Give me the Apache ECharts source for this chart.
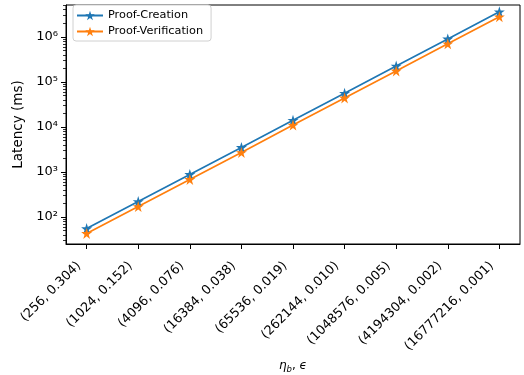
<!DOCTYPE html>
<html><head><meta charset="utf-8">
<script src="https://cdn.jsdelivr.net/npm/echarts@6/dist/echarts.min.js"></script>
<style>html,body{margin:0;padding:0;background:#fff}#c{width:524px;height:375px}</style>
</head><body><div id="c"></div>
<script>
var categories = ['(256, 0.304)','(1024, 0.152)','(4096, 0.076)','(16384, 0.038)','(65536, 0.019)','(262144, 0.010)','(1048576, 0.005)','(4194304, 0.002)','(16777216, 0.001)'];
var proofCreation = [55, 220, 880, 3500, 14000, 56000, 225000, 900000, 3600000];
var proofVerification = [43, 170, 680, 2700, 11000, 44000, 175000, 700000, 2800000];
var yMajorTicks = [100, 1000, 10000, 100000, 1000000];
var yMajorLabels = ['10²','10³','10⁴','10⁵','10⁶'];
var yMinorTicks = [30,40,50,60,70,80,90,200,300,400,500,600,700,800,900,2000,3000,4000,5000,6000,7000,8000,9000,
  20000,30000,40000,50000,60000,70000,80000,90000,200000,300000,400000,500000,600000,700000,800000,900000,2000000,3000000,4000000,5000000];

var star = 'path://M50,0 L61.2,34.5 L97.6,34.5 L68.2,55.9 L79.4,90.5 L50,69.1 L20.6,90.5 L31.8,55.9 L2.4,34.5 L38.8,34.5 Z';
var font = 'DejaVu Sans';
function mk(arr){ return arr.map(function(v,i){ return [i, v]; }); }
function yLabel(v){
  for (var i=0;i<yMajorTicks.length;i++){ if (Math.abs(v - yMajorTicks[i]) < yMajorTicks[i]*1e-6) return yMajorLabels[i]; }
  return '';
}
var chart = echarts.init(document.getElementById('c'), null, {renderer:'canvas'});
chart.setOption({
  animation: false,
  backgroundColor: '#fff',
  grid: {left: 66, right: 4, top: 5, bottom: 131, show: true, borderColor: '#000', borderWidth: 1, backgroundColor: 'transparent', containLabel: false, outerBoundsMode: 'none'},
  legend: {
    left: 73, top: 5, orient: 'vertical', itemGap: 5, itemWidth: 26, itemHeight: 12,
    padding: [5, 8, 4, 3],
    backgroundColor: '#fff', borderColor: '#d0d0d0', borderWidth: 1, borderRadius: 3,
    textStyle: {fontFamily: font, fontSize: 11.3, color: '#000'},
    data: ['Proof-Creation', 'Proof-Verification']
  },
  xAxis: {
    type: 'value', min: -0.4, max: 8.4,
    splitLine: {show: false},
    axisLine: {show: true, onZero: false, lineStyle: {color: '#000', width: 1}},
    axisTick: {show: true, inside: false, length: 5, lineStyle: {color: '#000'}, customValues: [0,1,2,3,4,5,6,7,8]},
    axisLabel: {
      customValues: [0,1,2,3,4,5,6,7,8],
      rotate: 45, margin: 12, fontFamily: font, fontSize: 12.8, color: '#000', padding: [0, 11, 0, 0],
      formatter: function(v){ var i = Math.round(v); return categories[i] || ''; }
    },
    name: '{i|η}{s|b}{n|, }{i|ϵ}', nameLocation: 'middle', nameGap: 114,
    nameTextStyle: {rich: {
      i: {fontFamily: font, fontStyle: 'italic', fontSize: 12, color: '#000'},
      s: {fontFamily: font, fontStyle: 'italic', fontSize: 8.5, color: '#000', verticalAlign: 'bottom', padding: [7,0,0,0]},
      n: {fontFamily: font, fontSize: 12, color: '#000'}
    }}
  },
  yAxis: [{
    type: 'log', logBase: 10, min: 25, max: 5100000,
    splitLine: {show: false},
    axisLine: {show: true, onZero: false, lineStyle: {color: '#000', width: 1}},
    axisTick: {show: true, length: 5, lineStyle: {color: '#000'}, customValues: yMajorTicks},
    axisLabel: {customValues: yMajorTicks, formatter: yLabel, fontFamily: font, fontSize: 13, color: '#000', margin: 8},
    name: 'Latency (ms)', nameLocation: 'middle', nameGap: 31, nameRotate: 90,
    nameTextStyle: {fontFamily: font, fontSize: 13.5, color: '#000'}
  }, {
    type: 'log', logBase: 10, min: 25, max: 5100000, position: 'left',
    splitLine: {show: false},
    axisLine: {show: false, onZero: false},
    axisTick: {show: true, length: 3, lineStyle: {color: '#000', width: 0.8}, customValues: yMinorTicks},
    axisLabel: {show: false}
  }],
  series: [{
    name: 'Proof-Creation', type: 'line', data: mk(proofCreation),
    symbol: star, symbolSize: 11, showAllSymbol: true,
    itemStyle: {color: '#1f77b4'}, lineStyle: {color: '#1f77b4', width: 1.7}
  }, {
    name: 'Proof-Verification', type: 'line', data: mk(proofVerification),
    symbol: star, symbolSize: 11, showAllSymbol: true,
    itemStyle: {color: '#ff7f0e'}, lineStyle: {color: '#ff7f0e', width: 1.7}
  }]
});
</script></body></html>
